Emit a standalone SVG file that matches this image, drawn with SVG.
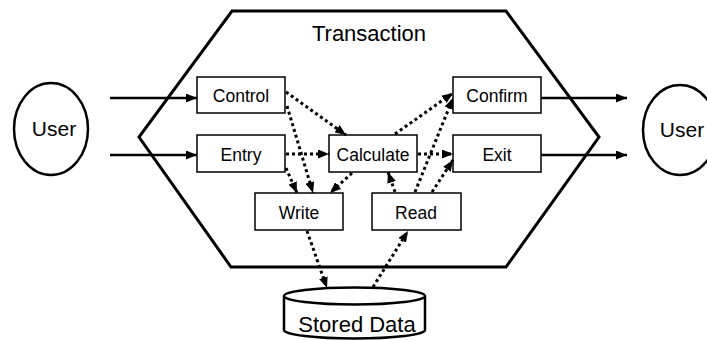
<svg xmlns="http://www.w3.org/2000/svg" width="707" height="340" viewBox="0 0 707 340">
<style>
text{font-family:"Liberation Sans",Arial,sans-serif;fill:#000;text-anchor:middle}
.box{fill:#fff;stroke:#000;stroke-width:1.5}
.lbl{font-size:17.5px}
.big{font-size:21px}
.solid{stroke:#000;stroke-width:2.5;fill:none;marker-end:url(#ah)}
.dot{stroke:#000;stroke-width:3;stroke-dasharray:3 3;fill:none;marker-end:url(#ah)}
</style>
<defs>
<marker id="ah" markerUnits="userSpaceOnUse" markerWidth="11" markerHeight="9" refX="11" refY="4.5" orient="auto">
<path d="M0,0 L11,4.5 L0,9 z" fill="#000"/>
</marker>
</defs>
<g id="transaction">
<polygon points="232,11 506,11 599,137 506,267 231,267 139,137" fill="#fff" stroke="#000" stroke-width="3"/>
<text x="369" y="41" style="font-size:22px">Transaction</text>
</g>
<g id="user-left">
<ellipse cx="51" cy="129" rx="37" ry="46" fill="#fff" stroke="#000" stroke-width="2.5"/>
<text class="big" x="54" y="136">User</text>
</g>
<g id="user-right">
<ellipse cx="680" cy="130" rx="37" ry="45" fill="#fff" stroke="#000" stroke-width="2.5"/>
<text class="big" x="682" y="137">User</text>
</g>
<g id="control"><rect class="box" x="197" y="77" width="88" height="36"/><text class="lbl" x="241" y="102">Control</text></g>
<g id="entry"><rect class="box" x="197" y="135" width="88" height="37"/><text class="lbl" x="241" y="161">Entry</text></g>
<g id="calculate"><rect class="box" x="329" y="135" width="88" height="37"/><text class="lbl" x="373" y="161">Calculate</text></g>
<g id="confirm"><rect class="box" x="453" y="77" width="88" height="36"/><text class="lbl" x="497" y="102">Confirm</text></g>
<g id="exit"><rect class="box" x="453" y="135" width="88" height="37"/><text class="lbl" x="497" y="161">Exit</text></g>
<g id="write"><rect class="box" x="255" y="193" width="88" height="37"/><text class="lbl" x="299" y="219">Write</text></g>
<g id="read"><rect class="box" x="372" y="193" width="89" height="37"/><text class="lbl" x="416" y="219">Read</text></g>
<g id="stored-data">
<path d="M284,296 L284,330 A70.5,8.5 0 0 0 425,330 L425,296" fill="#fff" stroke="#000" stroke-width="2.5"/>
<ellipse cx="354.5" cy="296" rx="70.5" ry="8.5" fill="#fff" stroke="#000" stroke-width="2.5"/>
<text x="357" y="332" style="font-size:22px">Stored Data</text>
</g>
<g id="connectors">
<line class="solid" x1="110" y1="98" x2="197" y2="98"/>
<line class="solid" x1="110" y1="155" x2="197" y2="155"/>
<line class="solid" x1="541" y1="98" x2="627" y2="98"/>
<line class="solid" x1="541" y1="155" x2="627" y2="155"/>
<line class="dot" x1="286" y1="92" x2="346" y2="135"/>
<line class="dot" x1="287" y1="106" x2="313" y2="193"/>
<line class="dot" x1="286" y1="168" x2="297" y2="193"/>
<line class="dot" x1="286" y1="154" x2="329" y2="154"/>
<line class="dot" x1="352" y1="173" x2="330" y2="193"/>
<line class="dot" x1="395" y1="134" x2="453" y2="93"/>
<line class="dot" x1="418" y1="154" x2="453" y2="154"/>
<line class="dot" x1="395" y1="192" x2="388" y2="172"/>
<line class="dot" x1="415" y1="192" x2="453" y2="98"/>
<line class="dot" x1="432" y1="192" x2="453" y2="160"/>
<line class="dot" x1="307" y1="231" x2="327" y2="288"/>
<line class="dot" x1="373" y1="287" x2="408" y2="231"/>
</g>
</svg>
